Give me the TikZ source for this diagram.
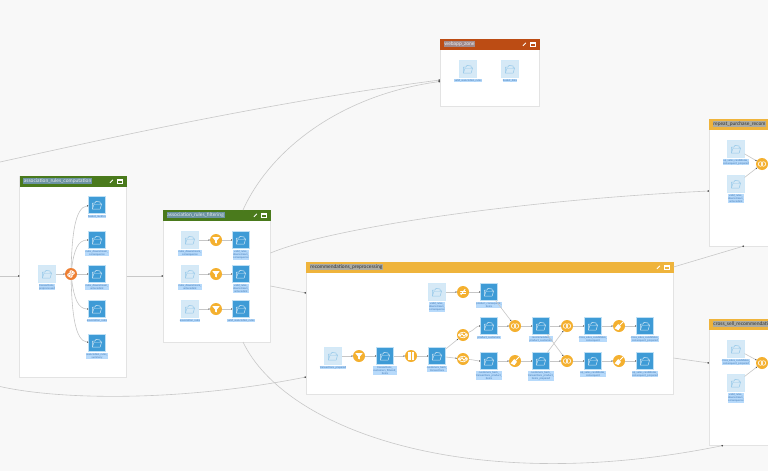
\documentclass[tikz,border=0pt]{standalone}
\usepackage{fontspec}
\setmainfont{Lato}
\usetikzlibrary{arrows.meta,calc}
\definecolor{pagebg}{HTML}{F8F8F8}
\definecolor{zgreen}{HTML}{4A7A1C}
\definecolor{zorange}{HTML}{EFB43C}
\definecolor{zrust}{HTML}{BC4C14}
\definecolor{dsdark}{HTML}{3E9BD6}
\definecolor{dslight}{HTML}{D6E9F6}
\definecolor{dsedge}{HTML}{BFE0F5}
\definecolor{rcporange}{HTML}{F4B02F}
\definecolor{pyorange}{HTML}{EE7F33}
\definecolor{hilite}{HTML}{B7DAFB}
\definecolor{hltext}{HTML}{3F78B5}
\definecolor{wire}{HTML}{C6C6C6}
\definecolor{wiredark}{HTML}{C8C8C8}
\definecolor{zoneedge}{HTML}{E3E3E3}
\definecolor{hlgreen}{HTML}{6C93A2}
\definecolor{hlorange}{HTML}{ABABA3}
\definecolor{hlrust}{HTML}{A08A8C}
\tikzset{
  x=1pt,y=-1pt,
  zonebox/.style={draw=zoneedge,line width=.7pt,fill=white,anchor=north west,inner sep=0,outer sep=0},
  zonehead/.style={anchor=north west,inner sep=0,outer sep=0,minimum height=10.5pt},
  zonetitle/.style={anchor=west,inner sep=.7pt,font=\fontsize{5}{6}\selectfont},
  titlegreen/.style={zonetitle,fill=hlgreen,text=white!92!black},
  titleorange/.style={zonetitle,fill=hlorange,text=black!80},
  titlerust/.style={zonetitle,fill=hlrust,text=white!92!black},
  dsdarkbox/.style={draw=dsedge,line width=.8pt,fill=dsdark,minimum size=17pt,inner sep=0,outer sep=0},
  dslightbox/.style={draw=dsedge!70,line width=.8pt,fill=dslight,minimum size=17pt,inner sep=0,outer sep=0},
  rcpbox/.style={circle,fill=rcporange,minimum size=12pt,inner sep=0,outer sep=0},
  pybox/.style={rcpbox,fill=pyorange},
  dslabel/.style={anchor=north,fill=hilite,text=hltext,inner sep=.3pt,align=center,font=\fontsize{2.7}{3.3}\selectfont},
  link/.style={draw=wire,line width=.6pt,-{Latex[length=1.4pt,width=1.5pt,color=black!70]}},
  outer/.style={draw=wiredark,line width=.6pt,-{Circle[length=1.6pt,color=black!70]}},
  glyph/.style={draw=white,line width=.7pt,line cap=round,line join=round},
  glyphfill/.style={fill=white,draw=none},
}
\newcommand{\zonebuild}[8]{%
  \node[zonebox,minimum width=#4pt,minimum height=#5pt] (#1) at (#2,#3) {};
  \node[zonehead,fill=#6,minimum width=#4pt] (#1-h) at (#2,#3) {};
  \node[#7] (#1-t) at ($(#1-h.west)+(3.5,0)$) {#8};
}
\newcommand{\zonebtns}[1]{%
  \begin{scope}[shift={($(#1-h.east)+(-15,0)$)}]
    \draw[white,line width=.8pt] (-1.6,1.6) -- (1.4,-1.4);
  \end{scope}
  \begin{scope}[shift={($(#1-h.east)+(-7,0)$)}]
    \draw[white,line width=.3pt] (-2.2,-1.9) rectangle (2.2,1.9);
    \draw[white,line width=.4pt] (-2.2,-1.2) -- (2.2,-1.2);
  \end{scope}
}
\newcommand{\folder}[2]{%
  \begin{scope}[shift={(#2)}]
    \draw[#1,line width=.5pt,line join=round] (-4.6,-1.9) -- (-4.6,4) -- (3.2,4) -- (4.6,-1.2) -- (3,-1.2) -- (3,-3) -- (-1,-3.6) -- (-2.2,-1.9) -- cycle;
    \draw[#1,line width=.4pt] (-4.6,4) -- (-3,-.8) -- (4.6,-.8);
  \end{scope}
}
\newcommand{\dsd}[4]{%
  \node[dsdarkbox] (#1) at (#2,#3) {};
  \folder{white!75!dsdark}{#1}
  \node[dslabel] (#1-l) at ($(#1.south)+(0,1.2)$) {#4};
}
\newcommand{\dsl}[4]{%
  \node[dslightbox] (#1) at (#2,#3) {};
  \folder{dsdark!55}{#1}
  \node[dslabel] (#1-l) at ($(#1.south)+(0,1.2)$) {#4};
}
\newcommand{\rcp}[4]{%
  \node[rcpbox] (#1) at (#2,#3) {};
  \begin{scope}[shift={(#1)}]#4\end{scope}
}
\newcommand{\gfilter}{\fill[glyphfill] (-3.6,-2.8) -- (3.6,-2.8) -- (.9,.6) -- (.9,3.4) -- (-.9,2.6) -- (-.9,.6) -- cycle;}
\newcommand{\gjoin}{\draw[glyph,line width=.55pt] (-1.5,0) circle (2.3); \draw[glyph,line width=.55pt] (1.5,0) circle (2.3);}
\newcommand{\gbrush}{\draw[glyph,line width=1pt] (.6,-.6) -- (4,-4); \fill[glyphfill] (-.8,-2) -- (2,.8) -- (-.6,4.2) -- (-4.4,2.4) -- cycle;}
\newcommand{\gsplit}{\draw[glyph] (-4.5,-.8) arc[start angle=190,end angle=350,radius=4.5,y radius=-4.5]; \draw[glyph] (-4.5,.8) arc[start angle=190,end angle=350,radius=4.5]; \draw[glyph,line width=.9pt] (-3,.9) -- (-1,-1.2) -- (1,1.2) -- (3,-.9);}
\newcommand{\gwindow}{\fill[glyphfill] (-3.2,-3.6) rectangle (-.5,3.6); \fill[glyphfill] (.5,-3.6) rectangle (3.2,3.6);}
\newcommand{\gpivot}{\draw[glyph,line width=.9pt] (-2,2.5) -- (2,-2.5); \draw[glyph,line width=.6pt] (-2.6,-.8) -- (2.6,-.8); \draw[glyph,line width=.6pt] (-2.6,.9) -- (2.6,.9);}
\newcommand{\gpython}{%
  \draw[glyph,line width=1pt,rounded corners=.8pt] (-1,-.9) -- (1.6,-.9) -- (1.6,-3.2) -- (-1,-3.2) -- (-1,-.2) -- (-3.2,-.2) -- (-3.2,2.2) -- (-1,2.2);
  \draw[glyph,line width=1pt,rounded corners=.8pt] (1,.9) -- (-1.6,.9) -- (-1.6,3.2) -- (1,3.2) -- (1,.2) -- (3.2,.2) -- (3.2,-2.2) -- (1.6,-2.2);
}
\begin{document}
\begin{tikzpicture}
\clip (0,0) rectangle (768,471);
\fill[pagebg] (0,0) rectangle (768,471);

\coordinate (in-left) at (0,276);
\coordinate (in-top) at (0,162);
\coordinate (in-low) at (0,386.5);

\zonebuild{zcomp}{19.5}{176}{107}{201}{zgreen}{titlegreen}{association\_rules\_computation}
\zonebuild{zfilt}{163}{210}{107.5}{132}{zgreen}{titlegreen}{association\_rules\_filtering}
\zonebuild{zprep}{306}{262}{367.5}{132}{zorange}{titleorange}{recommendations\_preprocessing}
\zonebuild{zweb}{440}{39}{99.5}{67}{zrust}{titlerust}{webapp\_zone}
\zonebuild{zrep}{709}{119}{150}{127}{zorange}{titleorange}{repeat\_purchase\_recom}
\zonebuild{zcross}{709}{319}{150}{126}{zorange}{titleorange}{cross\_sell\_recommendati}
\zonebtns{zcomp}\zonebtns{zfilt}\zonebtns{zprep}\zonebtns{zweb}

% links between zones
\coordinate (fl-top) at (243,210);
\coordinate (fl-r1) at (270.5,253);
\coordinate (fl-r2) at (270.5,286);
\coordinate (fl-bot) at (243,342);
\coordinate (web-a) at (440,80);
\coordinate (web-b) at (440,81.5);
\coordinate (prep-a) at (306,293);
\coordinate (prep-b) at (306,377);
\coordinate (prep-r1) at (673.5,267);
\coordinate (prep-r2) at (673.5,358);
\coordinate (rep-a) at (709,191);
\coordinate (rep-b) at (744,246);
\coordinate (cross-a) at (709,363);
\coordinate (cross-b) at (723,445.5);
\coordinate (comp-o) at (126.5,276);
\coordinate (flt-i) at (163,276);
\coordinate (comp-i) at (19.5,276);
\draw[outer] (in-left) -- (comp-i);
\draw[outer] (comp-o) -- (flt-i);
\draw[outer] (in-top) .. controls (100,140) and (270,102) .. (web-a);
\draw[outer] (fl-top) .. controls (270,150) and (340,95) .. (web-b);
\draw[outer] (fl-r1) .. controls (330,228) and (520,200) .. (rep-a);
\draw[outer] (fl-r2) -- (prep-a);
\draw[outer] (in-low) .. controls (60,400) and (180,402) .. (prep-b);
\draw[outer] (fl-bot) .. controls (285,430) and (470,497) .. (cross-b);
\draw[outer] (prep-r1) -- (rep-b);
\draw[outer] (prep-r2) -- (cross-a);

% association_rules_computation
\dsl{cin}{47}{274}{transactions\_\\preprocessed}
\node[pybox] (cpy) at (71,274) {};
\begin{scope}[shift={(cpy)}]\gpython\end{scope}
\dsd{co1}{97}{205}{basket\_metrics}
\dsd{co2}{97}{240}{rules\_downstream\_\\consequence}
\dsd{co3}{97}{274}{rules\_downstream\_\\antecedent}
\dsd{co4}{97}{309}{association\_rules}
\dsd{co5}{97}{343}{association\_rules\_\\summary}
\draw[link] (cin) -- (cpy);
\draw[link] (cpy) .. controls (72,235) and (75,207) .. (co1);
\draw[link] (cpy) .. controls (74,250) and (78,240) .. (co2);
\draw[link] (cpy) -- (co3);
\draw[link] (cpy) .. controls (74,298) and (78,309) .. (co4);
\draw[link] (cpy) .. controls (72,313) and (75,341) .. (co5);

% association_rules_filtering
\dsl{fa1}{190}{240}{rules\_downstream\_\\consequence}
\dsl{fa2}{190}{274}{rules\_downstream\_\\antecedent}
\dsl{fa3}{190}{309}{association\_rules}
\rcp{fr1}{216}{240}{\gfilter}
\rcp{fr2}{216}{274}{\gfilter}
\rcp{fr3}{216}{309}{\gfilter}
\dsd{fb1}{241}{240}{valid\_rules\_\\downstream\_\\consequence}
\dsd{fb2}{241}{274}{valid\_rules\_\\downstream\_\\antecedent}
\dsd{fb3}{241}{309}{valid\_association\_rules}
\foreach \n in {1,2,3}{\draw[link] (fa\n) -- (fr\n); \draw[link] (fr\n) -- (fb\n);}

% recommendations_preprocessing
\dsl{pa}{437}{292}{valid\_rules\_\\downstream\_\\consequence}
\rcp{pr1}{463}{292}{\gpivot}
\dsd{pb}{489}{292}{product\_consequent\_\\items}
\dsd{pc}{489}{326}{product\_customers}
\dsl{pd}{333}{356}{transactions\_prepared}
\rcp{pr2}{359}{356}{\gfilter}
\dsd{pe}{385}{356}{transactions\_\\customers\_filtered\_\\items}
\rcp{pr3}{411}{356}{\gwindow}
\dsd{pf}{437}{356}{customers\_back\_\\transactions}
\rcp{pr4}{463}{335}{\gsplit}
\rcp{pr5}{463}{359}{\gsplit}
\dsd{pg}{489}{361}{customers\_back\_\\transactions\_product\_\\items}
\rcp{pj1}{515}{326}{\gjoin}
\rcp{pr6}{515}{361}{\gbrush}
\dsd{ph}{541}{326}{recommended\_\\product\_customers}
\dsd{pi}{541}{361}{customers\_back\_\\transactions\_product\_\\items\_prepared}
\rcp{pj2}{567}{326}{\gjoin}
\rcp{pj3}{567}{361}{\gjoin}
\dsd{pk}{593}{326}{cross\_sales\_candidates\_\\consequent}
\dsd{pl}{593}{361}{up\_sales\_candidates\_\\consequent}
\rcp{pr7}{619}{326}{\gbrush}
\rcp{pr8}{619}{361}{\gbrush}
\dsd{pm}{645}{326}{cross\_sales\_candidates\_\\consequent\_prepared}
\dsd{pn}{645}{361}{up\_sales\_candidates\_\\consequent\_prepared}
\draw[link] (pa) -- (pr1);
\draw[link] (pr1) -- (pb);
\draw[link] (pb) -- (pj1);
\draw[link] (pd) -- (pr2);
\draw[link] (pr2) -- (pe);
\draw[link] (pe) -- (pr3);
\draw[link] (pr3) -- (pf);
\draw[link] (pf) -- (pr4);
\draw[link] (pf) -- (pr5);
\draw[link] (pr4) .. controls (476,329) and (476,326) .. (pc);
\draw[link] (pr5) .. controls (476,360) and (476,361) .. (pg);
\draw[link] (pc) -- (pj1);
\draw[link] (pj1) -- (ph);
\draw[link] (pg) -- (pr6);
\draw[link] (pr6) -- (pi);
\draw[link] (ph) -- (pj2);
\draw[link] (ph) -- (pj3);
\draw[link] (pi) -- (pj2);
\draw[link] (pi) -- (pj3);
\draw[link] (pj2) -- (pk);
\draw[link] (pj3) -- (pl);
\draw[link] (pk) -- (pr7);
\draw[link] (pl) -- (pr8);
\draw[link] (pr7) -- (pm);
\draw[link] (pr8) -- (pn);

% webapp_zone
\dsl{wa}{468}{69}{valid\_association\_rules}
\dsl{wb}{510}{69}{basket\_data}

% repeat_purchase
\dsl{ra}{736}{149}{up\_sales\_candidates\_\\consequent\_prepared}
\dsl{rb}{736}{184}{valid\_rules\_\\downstream\_\\antecedent}
\rcp{rj}{762}{164}{\gjoin}
\draw[link] (ra) -- (rj);
\draw[link] (rb) -- (rj);

% cross_sell
\dsl{xa}{736}{349}{cross\_sales\_candidates\_\\consequent\_prepared}
\dsl{xb}{736}{383}{valid\_rules\_\\downstream\_\\consequence}
\rcp{xj}{762}{363}{\gjoin}
\draw[link] (xa) -- (xj);
\draw[link] (xb) -- (xj);
\end{tikzpicture}
\end{document}
